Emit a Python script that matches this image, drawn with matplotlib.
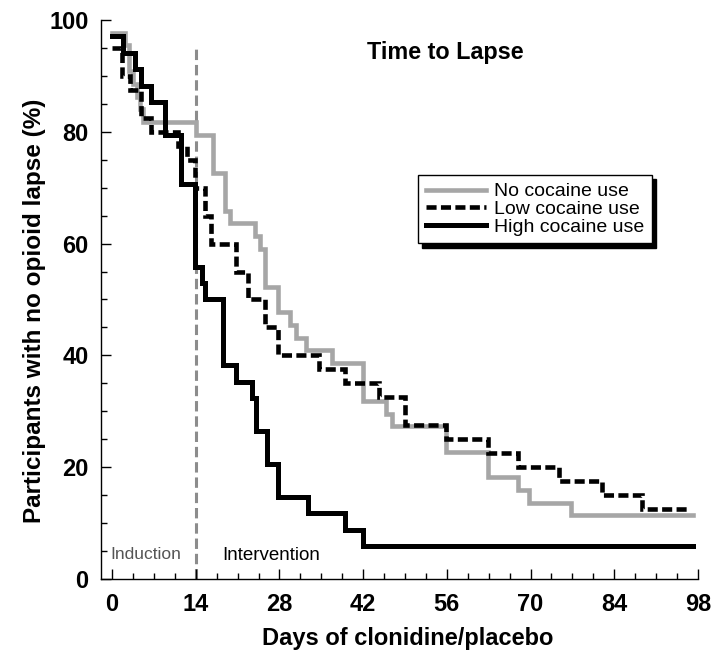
import matplotlib
matplotlib.use("Agg")
import matplotlib.pyplot as plt
from matplotlib.ticker import MultipleLocator

plt.rcParams['font.family'] = ['Liberation Sans', 'DejaVu Sans']

# ---- data (days, % with no opioid lapse), Kaplan-Meier style steps ----
no_days = [0, 2.2, 2.8, 3.5, 4.1, 4.6, 5.2, 14.1, 16.9, 18.9, 19.7, 23.9, 24.7, 25.6,
           27.8, 29.8, 30.8, 32.5, 36.8, 42.0, 45.8, 46.8, 55.8, 62.8, 67.9, 69.8, 76.7, 97.2]
no_surv = [97.7, 95.5, 90.9, 88.6, 86.3, 84.1, 81.8, 79.5, 72.7, 65.9, 63.6, 61.4, 59.1, 52.3,
           47.7, 45.5, 43.2, 40.9, 38.6, 31.8, 29.5, 27.3, 22.7, 18.2, 15.9, 13.6, 11.4, 11.4]

low_days = [0, 1.6, 3.0, 4.9, 6.6, 11.0, 12.6, 13.9, 15.6, 16.6, 20.8, 22.8, 25.6, 27.7,
            34.6, 39.0, 44.7, 49.0, 55.8, 62.9, 67.9, 74.8, 81.9, 88.7, 96.4]
low_surv = [95.0, 90.0, 87.5, 82.5, 80.0, 77.5, 75.0, 70.0, 65.0, 60.0, 55.0, 50.0, 45.0, 40.0,
            37.5, 35.0, 32.5, 27.5, 25.0, 22.5, 20.0, 17.5, 15.0, 12.5, 12.5]

high_days = [0, 1.9, 3.8, 4.9, 6.6, 8.9, 11.6, 13.9, 15.0, 15.6, 18.6, 20.8, 23.4, 24.0,
             25.9, 27.8, 32.8, 39.0, 42.0, 97.2]
high_surv = [97.1, 94.1, 91.2, 88.2, 85.3, 79.4, 70.6, 55.9, 52.9, 50.0, 38.2, 35.3, 32.4, 26.5,
             20.6, 14.7, 11.8, 8.8, 5.9, 5.9]

series_labels = ["No cocaine use", "Low cocaine use", "High cocaine use"]
x_ticks = [0, 14, 28, 42, 56, 70, 84, 98]
y_ticks = [0, 20, 40, 60, 80, 100]
phase_day = 14
phase_top = 95.5

fig = plt.figure(figsize=(7.12, 6.54), dpi=100)
ax = fig.add_axes([0.1419, 0.1147, 0.8384, 0.8547])

ax.plot([phase_day, phase_day], [0, phase_top], color='#8c8c8c', lw=2.2,
        dashes=(3.4, 1.6), zorder=1)

ax.step(no_days, no_surv, where='post', color='#a6a6a6', lw=3.3,
        solid_joinstyle='miter', label=series_labels[0], zorder=2)
ax.step(low_days, low_surv, where='post', color='black', lw=3.3,
        dashes=(2.2, 0.95), dash_joinstyle='miter', dash_capstyle='butt',
        label=series_labels[1], zorder=3)
ax.step(high_days, high_surv, where='post', color='black', lw=3.6,
        solid_joinstyle='miter', label=series_labels[2], zorder=4)

ax.set_xlim(-1.84, 98)
ax.set_ylim(0, 100)
ax.set_xticks(x_ticks)
ax.set_yticks(y_ticks)
ax.xaxis.set_minor_locator(MultipleLocator(3.5))
ax.yaxis.set_minor_locator(MultipleLocator(5))
ax.tick_params(axis='both', which='major', direction='in', length=7, width=1,
               labelsize=17, pad=10)
ax.tick_params(axis='both', which='minor', direction='in', length=4.5, width=1)
ax.tick_params(axis='y', which='major', pad=9)
for lab in ax.get_xticklabels() + ax.get_yticklabels():
    lab.set_fontweight('bold')

for s in ['top', 'right']:
    ax.spines[s].set_visible(False)
for s in ['left', 'bottom']:
    ax.spines[s].set_linewidth(1.0)

ax.set_xlabel("Days of clonidine/placebo", fontsize=17, fontweight='bold')
ax.set_ylabel("Participants with no opioid lapse (%)", fontsize=17.5, fontweight='bold')
ax.xaxis.set_label_coords(0.513, -0.086)
ax.yaxis.set_label_coords(-0.093, 0.48)

ax.text(0.576, 0.942, "Time to Lapse", transform=ax.transAxes, fontsize=16.8,
        fontweight='bold', ha='center', va='center')
ax.text(-0.3, 4.4, "Induction", fontsize=12.5, color='#555555', ha='left', va='center')
ax.text(18.4, 4.2, "Intervention", fontsize=13.5, color='black', ha='left', va='center')

leg = ax.legend(loc='upper left', bbox_to_anchor=(0.531, 0.7227), borderaxespad=0,
                fontsize=14, frameon=True, fancybox=False,
                shadow={'ox': 3, 'oy': -3, 'color': 'black', 'alpha': 1},
                handlelength=3.1, handletextpad=0.4, labelspacing=0.0,
                borderpad=0.4)
leg.get_frame().set_edgecolor('black')
leg.get_frame().set_linewidth(1.0)
leg.get_frame().set_facecolor('white')

fig.savefig("out.png", dpi=100)
